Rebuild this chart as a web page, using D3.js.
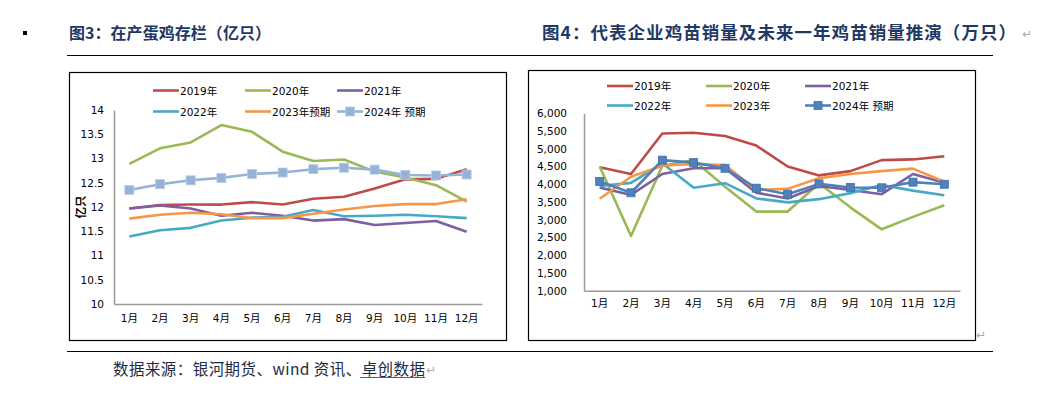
<!DOCTYPE html>
<html><head><meta charset="utf-8">
<script src="https://cdn.jsdelivr.net/npm/d3@7/dist/d3.min.js"></script>
<style>body{margin:0;background:#fff;}svg{display:block;}</style>
</head><body>
<svg id="c" width="1044" height="393"></svg>
<script>
const months = ["1月","2月","3月","4月","5月","6月","7月","8月","9月","10月","11月","12月"];
// Chart 3: 在产蛋鸡存栏（亿只）
const leftNames = ["2019年","2020年","2021年","2022年","2023年预期","2024年 预期"];
const L2019 = [11.97,12.04,12.05,12.05,12.10,12.05,12.17,12.21,12.38,12.57,12.58,12.78];
const L2020 = [12.89,13.21,13.33,13.69,13.55,13.14,12.95,12.98,12.73,12.61,12.45,12.11];
const L2021 = [11.97,12.03,11.97,11.82,11.88,11.82,11.72,11.75,11.63,11.67,11.71,11.49];
const L2022 = [11.39,11.52,11.57,11.72,11.78,11.80,11.94,11.81,11.82,11.84,11.81,11.77];
const L2023 = [11.76,11.84,11.88,11.85,11.77,11.77,11.86,11.95,12.02,12.06,12.06,12.16];
const L2024 = [12.35,12.47,12.55,12.60,12.68,12.71,12.78,12.81,12.77,12.66,12.65,12.67];
const leftTicks = [10,10.5,11,11.5,12,12.5,13,13.5,14];
// Chart 4: 鸡苗销量（万只）
const rightNames = ["2019年","2020年","2021年","2022年","2023年","2024年 预期"];
const R2019 = [4480,4290,5430,5450,5360,5090,4500,4250,4370,4680,4700,4790];
const R2020 = [4500,2540,4520,4680,3930,3230,3230,4030,3350,2730,3080,3410];
const R2021 = [3910,3700,4290,4450,4450,3760,3600,3950,3840,3720,4290,4040];
const R2022 = [3950,4040,4590,3900,4030,3600,3490,3580,3750,3980,3820,3690];
const R2023 = [3590,4210,4520,4570,4540,3840,3870,4170,4290,4370,4440,4070];
const R2024 = [4080,3760,4680,4610,4450,3890,3720,4010,3910,3900,4060,4000];
const rightTicks = [1000,1500,2000,2500,3000,3500,4000,4500,5000,5500,6000];

const colors = ["#be4b48","#98b954","#7d60a0","#46aac5","#f79646"];
const svg = d3.select("#c");
const navy = "#1f3864";
const cjk = "'Noto Sans CJK SC','Noto Sans',sans-serif";
const lat = "'DejaVu Sans','Noto Sans CJK SC',sans-serif";

// bullet and titles
svg.append("rect").attr("x",23).attr("y",31).attr("width",4).attr("height",4).attr("fill","#000");
svg.append("text").attr("x",69).attr("y",38.5).attr("font-family",cjk).attr("font-weight","bold")
  .attr("font-size",16).attr("fill",navy).attr("textLength",202).attr("lengthAdjust","spacing")
  .text("图3：在产蛋鸡存栏（亿只）");
svg.append("text").attr("x",542).attr("y",39).attr("font-family",cjk).attr("font-weight","bold")
  .attr("font-size",17.5).attr("fill",navy).attr("textLength",474).attr("lengthAdjust","spacing")
  .text("图4：代表企业鸡苗销量及未来一年鸡苗销量推演（万只）");
svg.append("text").attr("x",1022).attr("y",38).attr("font-family",lat).attr("font-size",12).attr("fill","#aaa").text("↵");
svg.append("line").attr("x1",67).attr("x2",993).attr("y1",55.5).attr("y2",55.5).attr("stroke","#000").attr("stroke-width",1.2);
svg.append("line").attr("x1",67).attr("x2",993).attr("y1",351.5).attr("y2",351.5).attr("stroke","#000").attr("stroke-width",1.2);

// boxes
svg.append("rect").attr("x",69.5).attr("y",72.5).attr("width",437).attr("height",268).attr("fill","none").attr("stroke","#000").attr("stroke-width",1.2);
svg.append("rect").attr("x",528.5).attr("y",70.5).attr("width",447).attr("height",270).attr("fill","none").attr("stroke","#000").attr("stroke-width",1.2);
svg.append("text").attr("x",976).attr("y",339).attr("font-family",lat).attr("font-size",12).attr("fill","#aaa").text("↵");

// source
svg.append("text").attr("x",113).attr("y",374.5).attr("font-family",cjk).attr("font-size",15.5).attr("fill","#1f2a44")
  .attr("textLength",312).attr("lengthAdjust","spacing").text("数据来源：银河期货、wind 资讯、卓创数据");
svg.append("text").attr("x",426).attr("y",374).attr("font-family",lat).attr("font-size",12).attr("fill","#aaa").text("↵");
svg.append("line").attr("x1",360).attr("x2",425).attr("y1",377.5).attr("y2",377.5).attr("stroke","#2f62d0").attr("stroke-width",1.2);

function drawChart(o){
  const g = svg.append("g");
  const x = d3.scaleBand().domain(months).range([o.x0,o.x1]);
  const y = d3.scaleLinear().domain(o.dom).range([o.y0,o.y1]);
  const ay = g.append("g").attr("transform",`translate(${o.x0},0)`)
    .call(d3.axisLeft(y).tickValues(o.ticks).tickSize(0).tickPadding(o.padY).tickFormat(o.fmt));
  const ax = g.append("g").attr("transform",`translate(0,${o.y0})`)
    .call(d3.axisBottom(x).tickSize(0).tickPadding(o.padX));
  [ay,ax].forEach(a=>{
    a.select(".domain").attr("stroke","#999").attr("stroke-width",1.5);
    a.selectAll("text").attr("font-family",lat).attr("font-size",o.fs).attr("fill","#000");
  });
  const line = d3.line().x((d,i)=>x(months[i])+x.bandwidth()/2).y(d=>y(d));
  o.series.forEach((s,k)=>{
    const c = k<5?colors[k]:o.c24;
    g.append("path").datum(s).attr("d",line).attr("fill","none").attr("stroke",c).attr("stroke-width",2.6).attr("stroke-linejoin","round");
    if(k===5){
      g.selectAll(null).data(s).enter().append("rect")
        .attr("x",(d,i)=>x(months[i])+x.bandwidth()/2-o.ms/2).attr("y",d=>y(d)-o.ms/2)
        .attr("width",o.ms).attr("height",o.ms).attr("fill",o.c24).attr("stroke",o.c24b).attr("stroke-width",0.8);
    }
  });
  // legend
  o.names.forEach((n,k)=>{
    const lx = o.legX[k%3], ly = o.legY[Math.floor(k/3)];
    const c = k<5?colors[k]:o.c24;
    g.append("line").attr("x1",lx).attr("x2",lx+26).attr("y1",ly).attr("y2",ly).attr("stroke",c).attr("stroke-width",2.6);
    if(k===5) g.append("rect").attr("x",lx+13-o.ms/2).attr("y",ly-o.ms/2).attr("width",o.ms).attr("height",o.ms).attr("fill",o.c24).attr("stroke",o.c24b).attr("stroke-width",0.8);
    g.append("text").attr("x",lx+27).attr("y",ly+4).attr("font-family",lat).attr("font-size",o.fsL).attr("fill","#000").text(n);
  });
  return g;
}

drawChart({x0:114,x1:482,y0:304,y1:110,dom:[10,14],ticks:leftTicks,fmt:d=>String(d),padY:10,padX:11,fs:10.5,fsL:10.5,
  series:[L2019,L2020,L2021,L2022,L2023,L2024],names:leftNames,c24:"#95b3d7",c24b:"#b8cce4",ms:9,
  legX:[153,245,337],legY:[90.5,111.5]});
svg.append("text").attr("transform","translate(85,207) rotate(-90)").attr("text-anchor","middle")
  .attr("font-family",cjk).attr("font-weight","bold").attr("font-size",11.5).attr("fill","#000").text("亿只");

drawChart({x0:584,x1:960,y0:290.7,y1:113.3,dom:[1000,6000],ticks:rightTicks,fmt:d3.format(","),padY:17,padX:8.5,fs:10.5,fsL:10.5,
  series:[R2019,R2020,R2021,R2022,R2023,R2024],names:rightNames,c24:"#4f81bd",c24b:"#3f6fa8",ms:8,
  legX:[607,706,805],legY:[86,105.5]});
</script>
</body></html>
